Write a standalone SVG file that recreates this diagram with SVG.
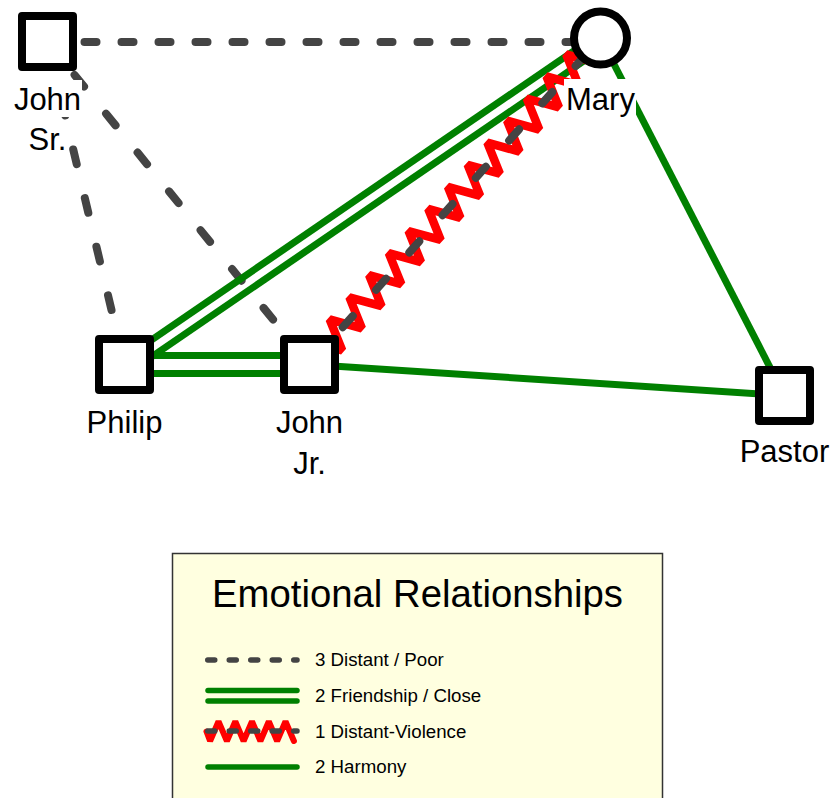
<svg xmlns="http://www.w3.org/2000/svg" width="836" height="798" viewBox="0 0 836 798">
<defs>
<style>
.lbl{font-family:"Liberation Sans",Arial,Helvetica,sans-serif;font-size:31px;fill:#000;text-anchor:middle}
.bg{fill:#fff}
.node{fill:#fff;stroke:#000;stroke-width:8;stroke-linejoin:round}
.dash{fill:none;stroke:#444;stroke-width:8;stroke-linecap:round}
.green{fill:none;stroke:#008000;stroke-width:7}
.zig{fill:none;stroke:#f00;stroke-width:8.5;stroke-linejoin:miter;stroke-miterlimit:2}
.ldash{fill:none;stroke:#444;stroke-width:5.5;stroke-linecap:round;stroke-dasharray:7 14.5}
.lgreen{fill:none;stroke:#008000;stroke-width:5.5;stroke-linecap:round}
.lzig{fill:none;stroke:#f00;stroke-width:6;stroke-linejoin:miter;stroke-miterlimit:2;stroke-linecap:round}
.ltxt{font-family:"Liberation Sans",Arial,Helvetica,sans-serif;font-size:18.7px;fill:#000}
</style>
</defs>
<rect width="836" height="798" fill="#fff"/>
<g id="connectors">
  <line class="dash" x1="47.5" y1="42" x2="600.5" y2="42" stroke-dasharray="12 25"/>
  <line class="dash" x1="47.5" y1="41.5" x2="124.5" y2="364.5" stroke-dasharray="15 35" stroke-dashoffset="-11"/>
  <line class="dash" x1="47.5" y1="41.5" x2="309.5" y2="364.5" stroke-dasharray="15 35" stroke-dashoffset="7"/>
  <line class="green" x1="121.7" y1="360.4" x2="597.2" y2="34.9"/>
  <line class="green" x1="129.6" y1="371.9" x2="605.1" y2="46.4"/>
  <line class="green" x1="124.5" y1="355.5" x2="309.5" y2="355.5"/>
  <line class="green" x1="124.5" y1="373.5" x2="309.5" y2="373.5"/>
  <line class="green" x1="600.5" y1="38" x2="784.5" y2="395.5"/>
  <line class="green" x1="309.5" y1="364.5" x2="784.5" y2="395.5"/>
  <polyline class="zig" points="322.49,372.48 309.96,341.45 342.2,350.39 329.67,319.37 361.9,328.31 349.38,297.28 381.61,306.22 369.08,275.2 401.32,284.14 388.79,253.12 421.03,262.05 408.5,231.03 440.73,239.97 428.21,208.95 460.44,217.88 447.91,186.86 480.15,195.8 467.62,164.78 499.86,173.71 487.33,142.69 519.56,151.63 507.04,120.61 539.27,129.55 526.75,98.52 558.98,107.46 546.45,76.44 578.69,85.38 566.16,54.35 598.39,63.29 585.87,32.27"/>
  <line class="dash" x1="309.5" y1="364.5" x2="600.5" y2="38" stroke-dasharray="15 35"/>
</g>
<g id="john-sr">
  <rect class="node" x="22" y="16" width="51" height="51"/>
  <rect class="bg" x="13" y="80" width="69" height="37"/>
  <rect class="bg" x="26.5" y="120" width="42" height="37"/>
  <text class="lbl" x="47.5" y="110">John</text>
  <text class="lbl" x="47.5" y="150">Sr.</text>
</g>
<g id="mary">
  <circle class="node" cx="600.5" cy="38" r="26.5"/>
  <rect class="bg" x="564" y="79" width="72" height="38"/>
  <text class="lbl" x="600.5" y="110">Mary</text>
</g>
<g id="philip">
  <rect class="node" x="99" y="339" width="51" height="51"/>
  <text class="lbl" x="124.5" y="433">Philip</text>
</g>
<g id="john-jr">
  <rect class="node" x="284" y="339" width="51" height="51"/>
  <text class="lbl" x="309.5" y="433">John</text>
  <text class="lbl" x="309.5" y="474">Jr.</text>
</g>
<g id="pastor">
  <rect class="node" x="759" y="370" width="51" height="51"/>
  <text class="lbl" x="784.5" y="462">Pastor</text>
</g>
<g id="legend">
  <rect x="172.5" y="553.5" width="490" height="260" fill="#ffffe0" stroke="#333" stroke-width="1.5"/>
  <text x="417.5" y="607" font-family="Liberation Sans, Arial, Helvetica, sans-serif" font-size="38.3" text-anchor="middle">Emotional Relationships</text>
  <line class="ldash" x1="207.75" y1="660" x2="297" y2="660"/>
  <text class="ltxt" x="315" y="666">3 Distant / Poor</text>
  <line class="lgreen" x1="208" y1="690.5" x2="297" y2="690.5"/>
  <line class="lgreen" x1="208" y1="701" x2="297" y2="701"/>
  <text class="ltxt" x="315" y="702">2 Friendship / Close</text>
  <polyline class="lzig" points="206.5,731.5 210.1,741 218.5,721.5 226.9,741 235.3,721.5 243.6,741 252,721.5 260.4,741 268.8,721.5 277.1,741 285.5,721.5 293.9,741"/>
  <line class="ldash" x1="207.75" y1="731" x2="297" y2="731"/>
  <text class="ltxt" x="315" y="737.5">1 Distant-Violence</text>
  <line class="lgreen" x1="208" y1="767" x2="297" y2="767"/>
  <text class="ltxt" x="315" y="773">2 Harmony</text>
</g>
</svg>
